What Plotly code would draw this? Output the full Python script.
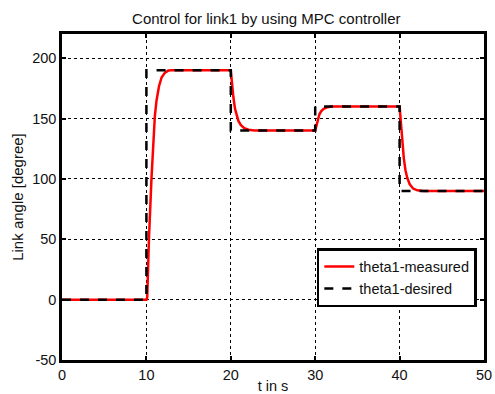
import plotly.graph_objects as go

# Desired trajectory (step reference) for link 1
t_des = [0, 10, 10, 20, 20, 30, 30, 40, 40, 50]
theta_des = [0, 0, 190, 190, 140, 140, 160, 160, 90, 90]

# Measured response of link 1 under MPC control
t_meas = [0, 10, 10.1, 10.3, 10.6, 10.8, 11.0, 11.2, 11.5, 11.8, 12.2, 12.6, 13,
          20, 20.1, 20.3, 20.5, 20.7, 20.9, 21.2, 21.6, 22.1, 22.8,
          30, 30.1, 30.3, 30.5, 30.7, 31.0, 31.4, 32,
          40, 40.1, 40.3, 40.5, 40.7, 40.9, 41.2, 41.6, 42.1, 42.8, 50]
theta_meas = [0, 0, 2, 50, 100, 132, 152, 165, 177, 184, 188, 189.7, 190,
              190, 182, 168, 158, 152, 148, 144.5, 142, 140.7, 140,
              140, 143, 149, 153.5, 156, 158, 159.3, 160,
              160, 150, 132, 117, 107, 101, 95.5, 92, 90.5, 90, 90]

x_ticks = [0, 10, 20, 30, 40, 50]
y_ticks = [-50, 0, 50, 100, 150, 200]
x_tick_labels = ["0", "10", "20", "30", "40", "50"]
y_tick_labels = ["-50", "0", "50", "100", "150", "200"]

font_family = "Liberation Sans, Arial, sans-serif"

fig = go.Figure()
fig.add_trace(go.Scatter(x=t_meas, y=theta_meas, mode="lines", name="theta1-measured",
                         line=dict(color="#ff0000", width=2.5)))
fig.add_trace(go.Scatter(x=t_des, y=theta_des, mode="lines", name="theta1-desired",
                         line=dict(color="#000000", width=2.5, dash="dash")))

axis_common = dict(
    showline=True, linecolor="black", linewidth=2.5, mirror="ticks",
    ticks="inside", ticklen=4, tickwidth=2, tickcolor="black",
    showgrid=True, gridcolor="black", gridwidth=1, griddash="dot",
    zeroline=False, tickfont=dict(size=14.5, color="#111"), automargin=False,
)

fig.update_layout(
    width=495, height=394,
    margin=dict(l=62, r=11, t=34, b=34, autoexpand=False),
    paper_bgcolor="white", plot_bgcolor="white",
    font=dict(family=font_family, color="#111"),
    title=dict(text="Control for link1 by using MPC controller", x=0.538, xanchor="center",
               y=0.952, yanchor="middle", font=dict(size=15, color="#111"),
               automargin=False),
    xaxis=dict(range=[0, 50], tickvals=x_ticks, ticktext=x_tick_labels,
               title=dict(text="t in s", standoff=1, font=dict(size=14.5)), **axis_common),
    yaxis=dict(range=[-50, 220], tickvals=y_ticks, ticktext=y_tick_labels,
               title=dict(text="Link angle [degree]", standoff=5, font=dict(size=15)),
               **axis_common),
    legend=dict(x=0.983, y=0.343, xanchor="right", yanchor="top",
                bgcolor="white", bordercolor="black", borderwidth=2.5,
                font=dict(size=14.5, color="#111"), tracegroupgap=0,
                itemwidth=30),
    showlegend=True,
)

fig.write_html("out.html")
